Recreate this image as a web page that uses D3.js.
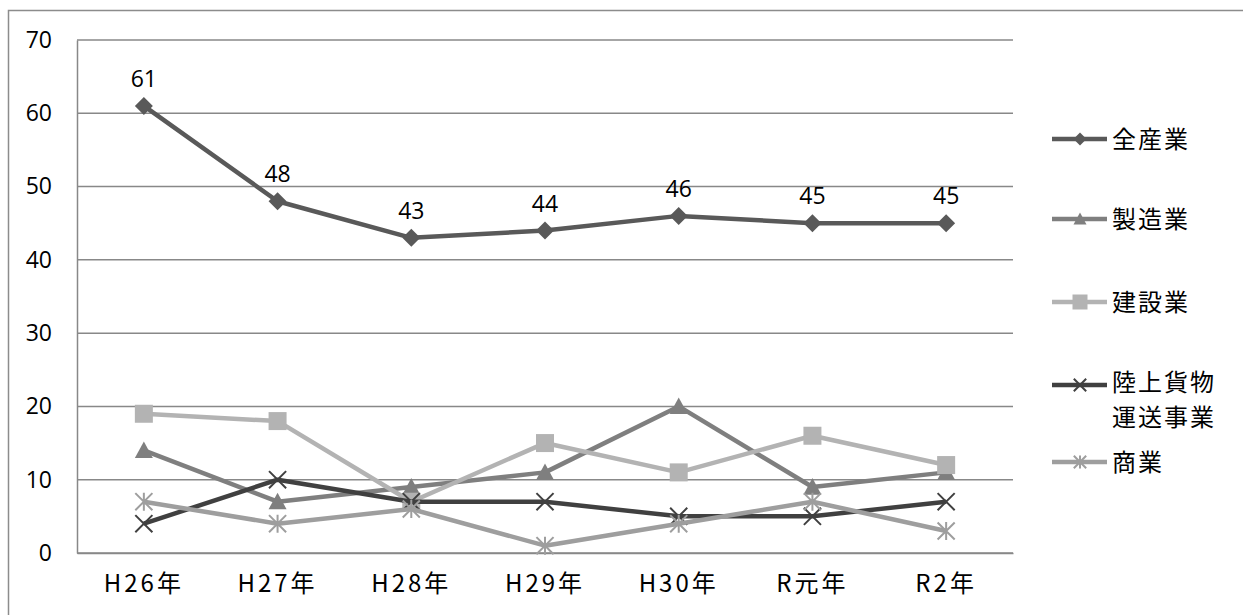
<!DOCTYPE html>
<html lang="ja">
<head>
<meta charset="utf-8">
<script src="https://cdn.jsdelivr.net/npm/d3@7"></script>
<style>
  html, body { margin: 0; padding: 0; background: #fff; }
  svg { display: block; }
</style>
</head>
<body>
<svg id="chart" width="1243" height="615"></svg>
<script>
// Years along the x axis
const categories = ["H26年", "H27年", "H28年", "H29年", "H30年", "R元年", "R2年"];

// Series names (legend labels may wrap onto two lines)
const seriesNames = ["全産業", "製造業", "建設業", "陸上貨物運送事業", "商業"];
const legendLines = [["全産業"], ["製造業"], ["建設業"], ["陸上貨物", "運送事業"], ["商業"]];

// Values per series, one per year
const allIndustries   = [61, 48, 43, 44, 46, 45, 45];
const manufacturing   = [14, 7, 9, 11, 20, 9, 11];
const construction    = [19, 18, 7, 15, 11, 16, 12];
const roadFreight     = [4, 10, 7, 7, 5, 5, 7];
const commerce        = [7, 4, 6, 1, 4, 7, 3];

const yTicks = [0, 10, 20, 30, 40, 50, 60, 70];

const seriesValues = [allIndustries, manufacturing, construction, roadFreight, commerce];
const seriesColors = ["#595959", "#7f7f7f", "#b3b3b3", "#404040", "#9e9e9e"];
const seriesMarkers = ["diamond", "triangle", "square", "cross", "star"];

const svg = d3.select("#chart");
const W = 1243, H = 615;
const plot = { left: 77, right: 1013, top: 40, bottom: 553 };

// Outer frame
svg.append("rect")
  .attr("x", 8.5).attr("y", 10.5)
  .attr("width", W).attr("height", H)
  .attr("fill", "#fff").attr("stroke", "#8c8c8c").attr("stroke-width", 1.5);

const x = d3.scaleBand().domain(categories).range([plot.left, plot.right]);
const y = d3.scaleLinear().domain([0, 70]).range([plot.bottom, plot.top]);
const cx = d => x(d) + x.bandwidth() / 2;

// Horizontal gridlines
svg.append("g")
  .selectAll("line")
  .data(yTicks)
  .join("line")
  .attr("x1", plot.left).attr("x2", plot.right)
  .attr("y1", d => y(d)).attr("y2", d => y(d))
  .attr("stroke", "#888").attr("stroke-width", 1.5);

// Y axis
const yAxis = svg.append("g")
  .attr("transform", `translate(${plot.left},0)`)
  .call(d3.axisLeft(y).tickValues(yTicks).tickSize(0).tickPadding(25).tickFormat(d3.format("d")));
yAxis.select(".domain").attr("stroke", "#888").attr("stroke-width", 1.5);
yAxis.selectAll("text")
  .attr("font-family", "'Open Sans', 'Noto Sans', sans-serif")
  .attr("font-size", 23).attr("fill", "#000");

// X axis
const xAxis = svg.append("g")
  .attr("transform", `translate(0,${plot.bottom})`)
  .call(d3.axisBottom(x).tickSize(0).tickPadding(21));
xAxis.select(".domain").attr("stroke", "#888").attr("stroke-width", 1.5);
xAxis.selectAll("text")
  .attr("font-family", "'Noto Sans CJK JP', sans-serif")
  .attr("font-size", 24).attr("letter-spacing", 3).attr("fill", "#000")
  .attr("dy", "0.75em");

// Marker drawing helper
function drawMarker(g, type, color, s) {
  const h = s / 2;
  if (type === "diamond") {
    g.append("path").attr("d", `M0,${-h}L${h},0L0,${h}L${-h},0Z`).attr("fill", color);
  } else if (type === "triangle") {
    g.append("path").attr("d", `M0,${-h}L${h},${h * 0.85}L${-h},${h * 0.85}Z`).attr("fill", color);
  } else if (type === "square") {
    g.append("rect").attr("x", -h).attr("y", -h).attr("width", s).attr("height", s).attr("fill", color);
  } else if (type === "cross") {
    const k = h * 0.95;
    g.append("path").attr("d", `M${-k},${-k}L${k},${k}M${-k},${k}L${k},${-k}`)
      .attr("stroke", color).attr("stroke-width", 2).attr("fill", "none");
  } else if (type === "star") {
    const k = h * 0.95;
    g.append("path").attr("d", `M${-k},${-k}L${k},${k}M${-k},${k}L${k},${-k}M0,${-h}L0,${h}`)
      .attr("stroke", color).attr("stroke-width", 2).attr("fill", "none");
  }
}

const line = d3.line().x(d => cx(d.cat)).y(d => y(d.v));

seriesValues.forEach((vals, i) => {
  const pts = vals.map((v, j) => ({ cat: categories[j], v }));
  const g = svg.append("g");
  g.append("path")
    .datum(pts)
    .attr("d", line)
    .attr("fill", "none")
    .attr("stroke", seriesColors[i])
    .attr("stroke-width", 4.5)
    .attr("stroke-linejoin", "round");
  pts.forEach(p => {
    const mg = g.append("g").attr("transform", `translate(${cx(p.cat)},${y(p.v)})`);
    drawMarker(mg, seriesMarkers[i], seriesColors[i], 18);
  });
});

// Value labels for 全産業
svg.append("g")
  .selectAll("text")
  .data(allIndustries.map((v, j) => ({ cat: categories[j], v })))
  .join("text")
  .attr("x", d => cx(d.cat))
  .attr("y", d => y(d.v) - 19)
  .attr("text-anchor", "middle")
  .attr("font-family", "'Open Sans', 'Noto Sans', sans-serif")
  .attr("font-size", 23)
  .attr("fill", "#000")
  .text(d => d.v);

// Legend
const legendY = [139, 219, 302, 385, 462];
const legend = svg.append("g");
seriesNames.forEach((name, i) => {
  const g = legend.append("g").attr("transform", `translate(0,${legendY[i]})`);
  g.append("line")
    .attr("x1", 1052).attr("x2", 1107).attr("y1", 0).attr("y2", 0)
    .attr("stroke", seriesColors[i]).attr("stroke-width", 4.5);
  const mg = g.append("g").attr("transform", "translate(1080,0)");
  drawMarker(mg, seriesMarkers[i], seriesColors[i], seriesMarkers[i] === "square" ? 15 : 13);
  const lines = legendLines[i];
  const t = g.append("text")
    .attr("x", 1112)
    .attr("font-family", "'Noto Sans CJK JP', sans-serif")
    .attr("font-size", 24)
    .attr("letter-spacing", 2)
    .attr("fill", "#000");
  lines.forEach((ln, k) => {
    t.append("tspan")
      .attr("x", 1112)
      .attr("y", k === 0 ? (lines.length > 1 ? -3 : 0) : 32)
      .attr("dy", "0.36em")
      .text(ln);
  });
});
</script>
</body>
</html>
